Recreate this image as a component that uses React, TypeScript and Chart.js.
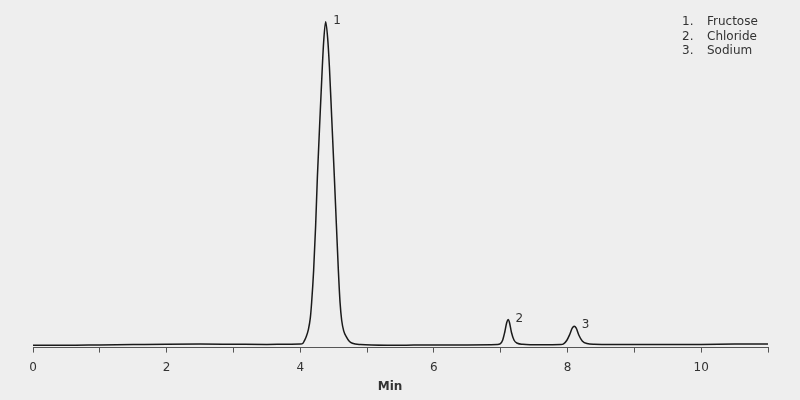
import React, { useEffect, useRef } from "react";
import { Chart, registerables } from "chart.js";

Chart.register(...registerables);

// Retention time (min) and detector signal (% of range)
const retentionTimes = [
  0, 0.5, 1, 1.5, 2, 2.5, 3, 3.5, 3.8, 4.0,
  4.04, 4.06, 4.09, 4.12, 4.15, 4.17, 4.2, 4.23, 4.256, 4.3, 4.33, 4.35, 4.38, 4.41, 4.436, 4.47, 4.51, 4.54, 4.57, 4.595, 4.62, 4.65, 4.69, 4.73, 4.78, 4.9,
  5.3, 5.7, 6.0, 6.5, 6.95,
  6.99, 7.03, 7.06, 7.09, 7.11, 7.13, 7.16, 7.2, 7.25, 7.33,
  7.6, 7.9,
  7.94, 7.99, 8.03, 8.07, 8.1, 8.13, 8.17, 8.22, 8.29, 8.4,
  9.0, 9.5, 10.0, 10.5, 11.0,
];
const signal = [
  -0.3, -0.3, -0.2, -0.1, 0.0, 0.05, 0.0, -0.05, 0.0, 0.05,
  0.3, 1.0, 2.3, 4.3, 7.8, 12.5, 22.1, 35.5, 50.0, 70.0, 83.0, 90.5, 96.5, 91.5, 83.0, 68.0, 50.0, 36.0, 22.1, 12.6, 7.1, 4.0, 2.2, 1.0, 0.3, -0.1,
  -0.3, -0.25, -0.2, -0.2, -0.1,
  0.1, 1.3, 3.6, 6.5, 7.4, 6.6, 3.6, 1.2, 0.3, 0.0,
  -0.15, -0.1,
  0.1, 1.2, 2.8, 4.8, 5.4, 4.8, 2.7, 1.0, 0.2, 0.0,
  -0.1, -0.1, -0.05, 0.05, 0.1,
];

const peakNumbers = ["1", "2", "3"];
const peakTimes = [4.38, 7.11, 8.1];
const peakHeights = [96.5, 7.4, 5.4];
const compoundNames = ["Fructose", "Chloride", "Sodium"];
const xTickValues = [0, 1, 2, 3, 4, 5, 6, 7, 8, 9, 10, 11];
const xAxisTitle = "Min";

const FONT = "'DejaVu Sans', Verdana, sans-serif";
const TEXT = "#333333";

export default function App() {
  const canvasRef = useRef<HTMLCanvasElement | null>(null);

  useEffect(() => {
    document.body.style.margin = "0";
    document.body.style.background = "#eeeeee";
    const canvas = canvasRef.current;
    if (!canvas) return;

    const annotations = {
      id: "annotations",
      afterDraw(chart: any) {
        const ctx = chart.ctx;
        const xs = chart.scales.x;
        const ys = chart.scales.y;
        ctx.save();
        ctx.fillStyle = TEXT;
        ctx.font = `12px ${FONT}`;
        ctx.textAlign = "left";
        ctx.textBaseline = "alphabetic";
        peakNumbers.forEach((n, i) => {
          const px = xs.getPixelForValue(peakTimes[i]);
          const py = ys.getPixelForValue(peakHeights[i]);
          ctx.fillText(n, px + 7.5, py + 2);
        });
        compoundNames.forEach((name, i) => {
          const y = 25 + i * 14.5;
          ctx.fillText(`${peakNumbers[i]}.`, 682, y);
          ctx.fillText(name, 707, y);
        });
        ctx.font = `bold 12px ${FONT}`;
        ctx.textAlign = "center";
        ctx.fillText(xAxisTitle, 390, 390);
        ctx.restore();
      },
    };

    const chart = new Chart(canvas, {
      type: "line",
      data: {
        datasets: [
          {
            data: retentionTimes.map((t, i) => ({ x: t, y: signal[i] })),
            borderColor: "#1a1a1a",
            borderWidth: 1.5,
            pointRadius: 0,
            fill: false,
            cubicInterpolationMode: "monotone",
          },
        ],
      },
      options: {
        responsive: false,
        animation: false,
        events: [],
        layout: { padding: { left: 33, right: 32, top: 10, bottom: 17 } },
        plugins: { legend: { display: false }, tooltip: { enabled: false }, title: { display: false } },
        scales: {
          x: {
            type: "linear",
            min: 0,
            max: 11,
            afterBuildTicks: (scale: any) => {
              scale.ticks = xTickValues.map((v) => ({ value: v }));
            },
            ticks: {
              autoSkip: false,
              maxRotation: 0,
              padding: 8,
              color: TEXT,
              font: { family: FONT, size: 12 },
              callback: (v: any) => (Number(v) % 2 === 0 ? String(v) : ""),
            },
            grid: {
              drawOnChartArea: false,
              drawTicks: true,
              tickLength: 5,
              color: "#555555",
            },
            border: { display: true, color: "#555555", width: 1 },
          },
          y: {
            display: false,
            min: -1,
            max: 100,
          },
        },
      },
      plugins: [annotations],
    });

    return () => chart.destroy();
  }, []);

  return (
    <div style={{ width: 800, height: 400, background: "#eeeeee" }}>
      <canvas ref={canvasRef} width={800} height={400} style={{ display: "block" }} />
    </div>
  );
}
